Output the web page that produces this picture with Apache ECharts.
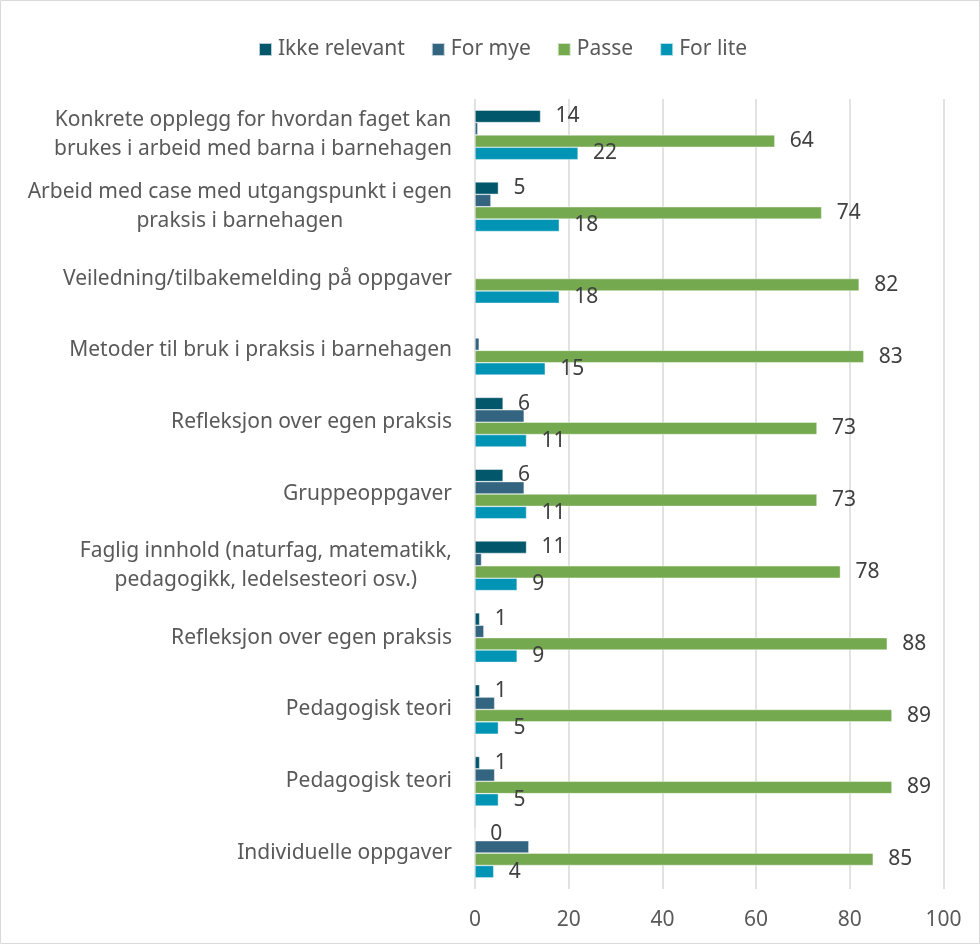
<!DOCTYPE html>
<html>
<head>
<meta charset="utf-8">
<script src="https://cdn.jsdelivr.net/npm/echarts@6/dist/echarts.min.js"></script>
<style>
  html, body { margin: 0; padding: 0; background: #fff; }
  #chart { width: 980px; height: 944px; }
</style>
</head>
<body>
<div id="chart"></div>
<script>
// Survey items, top to bottom
const categories = [
  'Konkrete opplegg for hvordan faget kan\nbrukes i arbeid med barna i barnehagen',
  'Arbeid med case med utgangspunkt i egen\npraksis i barnehagen',
  'Veiledning/tilbakemelding på oppgaver',
  'Metoder til bruk i praksis i barnehagen',
  'Refleksjon over egen praksis',
  'Gruppeoppgaver',
  'Faglig innhold (naturfag, matematikk,\npedagogikk, ledelsesteori osv.)',
  'Refleksjon over egen praksis',
  'Pedagogisk teori',
  'Pedagogisk teori',
  'Individuelle oppgaver'
];

const seriesNames = ['Ikke relevant', 'For mye', 'Passe', 'For lite'];

// Percentages per answer
const ikkeRelevant = [14, 5, null, null, 6, 6, 11, 1, 1, 1, 0];
const forMye       = [0.6, 3.4, null, 0.9, 10.5, 10.5, 1.4, 1.9, 4.2, 4.2, 11.5];
const passe        = [64, 74, 82, 83, 73, 73, 78, 88, 89, 89, 85];
const forLite      = [22, 18, 18, 15, 11, 11, 9, 9, 5, 5, 4];

const xTicks = { min: 0, max: 100, interval: 20 };

const colors = ['#02576a', '#336480', '#75a94f', '#0194b5'];
const FONT = '"Noto Sans", "Open Sans", sans-serif';
const FS = 21;

function valueLabel(show) {
  return {
    show: show,
    position: 'right',
    distance: 15,
    color: '#404040',
    fontSize: FS,
    fontFamily: FONT,
    formatter: p => (p.value === null || p.value === undefined) ? '' : String(p.value)
  };
}

function barSeries(name, data, showLabel, color) {
  return {
    name: name,
    type: 'bar',
    data: data,
    barGap: '0%',
    barCategoryGap: '31%',
    itemStyle: { color: color, borderColor: 'rgba(255,255,255,0.7)', borderWidth: 0.6 },
    label: valueLabel(showLabel),
    emphasis: { disabled: true }
  };
}

const chart = echarts.init(document.getElementById('chart'), null, { renderer: 'canvas' });

chart.setOption({
  animation: false,
  color: colors,
  textStyle: { fontFamily: FONT },
  graphic: [{
    type: 'rect',
    shape: { x: 0.5, y: 0.5, width: 979, height: 943 },
    style: { fill: 'none', stroke: '#d9d9d9', lineWidth: 1 },
    silent: true
  }],
  legend: {
    top: 34,
    left: 253,
    itemWidth: 13,
    itemHeight: 13,
    itemGap: 26,
    icon: 'rect',
    textStyle: { color: '#595959', fontSize: FS, fontFamily: FONT, padding: [0, 0, 0, 1] },
    data: seriesNames
  },
  grid: { left: 475, right: 36.5, top: 99, bottom: 55, containLabel: false },
  xAxis: {
    type: 'value',
    min: xTicks.min,
    max: xTicks.max,
    interval: xTicks.interval,
    axisLine: { show: false },
    axisTick: { show: false },
    splitLine: { lineStyle: { color: '#d9d9d9', width: 1.5 } },
    axisLabel: { color: '#595959', fontSize: FS, fontFamily: FONT, margin: 21 }
  },
  yAxis: {
    type: 'category',
    inverse: true,
    data: categories,
    axisLine: { show: false },
    axisTick: { show: false },
    axisLabel: {
      margin: 23,
      formatter: v => v.split('\n').map(l => '{c|' + l + '}').join('\n'),
      rich: {
        c: { align: 'center', color: '#595959', fontSize: FS, lineHeight: 29, fontFamily: FONT }
      }
    }
  },
  series: [
    barSeries(seriesNames[0], ikkeRelevant, true, colors[0]),
    barSeries(seriesNames[1], forMye, false, colors[1]),
    barSeries(seriesNames[2], passe, true, colors[2]),
    barSeries(seriesNames[3], forLite, true, colors[3])
  ]
});
</script>
</body>
</html>
